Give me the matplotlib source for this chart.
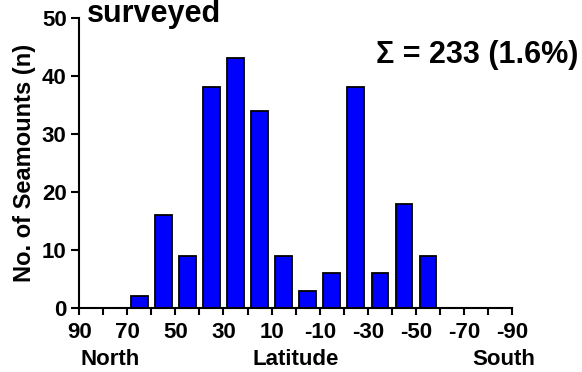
import matplotlib
matplotlib.use("Agg")
import matplotlib.pyplot as plt
import numpy as np

# latitude bins (centre of each 10 degree band) and seamount counts
lat_centres = [65, 55, 45, 35, 25, 15, 5, -5, -15, -25, -35, -45, -55]
counts = [2, 16, 9, 38, 43, 34, 9, 3, 6, 38, 6, 18, 9]
xtick_labels = [90, 70, 50, 30, 10, -10, -30, -50, -70, -90]
ytick_values = [0, 10, 20, 30, 40, 50]

plt.rcParams['font.family'] = ['Liberation Sans', 'DejaVu Sans']
plt.rcParams['font.weight'] = 'bold'
plt.rcParams['axes.unicode_minus'] = False

fig = plt.figure(figsize=(5.82, 3.72), dpi=100)
ax = fig.add_axes([0.136, 0.172, 0.744, 0.780])

ax.bar(lat_centres, counts, width=6.9, color='#0000ff', edgecolor='black', linewidth=1.3)

ax.set_xlim(90, -90)
ax.set_ylim(0, 50)
ax.set_xticks(xtick_labels)
ax.set_xticks(np.arange(90, -91, -10), minor=True)
ax.set_yticks(ytick_values)
ax.tick_params(axis='both', which='both', direction='out', width=1.5, length=6,
               labelsize=16, color='black', pad=3)
ax.tick_params(axis='x', which='both', length=5, pad=5)
for lbl in ax.get_xticklabels() + ax.get_yticklabels():
    lbl.set_fontweight('bold')

for side in ['top', 'right']:
    ax.spines[side].set_visible(False)
for side in ['left', 'bottom']:
    ax.spines[side].set_linewidth(1.5)

ax.set_ylabel('No. of Seamounts (n)', fontsize=17, fontweight='bold', labelpad=4)

fig.text(0.149, 0.941, 'surveyed', fontsize=22, fontweight='bold', va='baseline')
fig.text(0.993, 0.831, '\u03a3 = 233 (1.6%)', fontsize=22, fontweight='bold',
         ha='right', va='baseline')

fig.text(0.189, 0.018, 'North', fontsize=16, fontweight='bold', ha='center', va='baseline')
fig.text(0.508, 0.018, 'Latitude', fontsize=16, fontweight='bold', ha='center', va='baseline')
fig.text(0.866, 0.018, 'South', fontsize=16, fontweight='bold', ha='center', va='baseline')

fig.savefig('out.png', dpi=100)
